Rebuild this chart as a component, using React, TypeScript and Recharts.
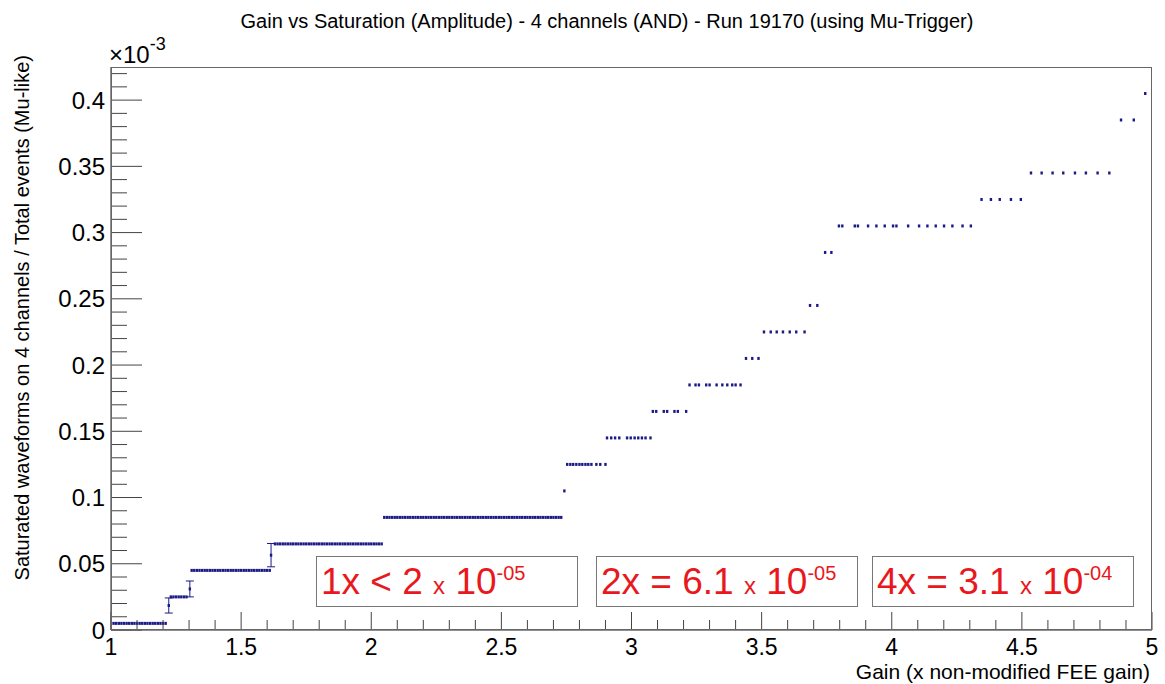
import React from 'react';
import { ScatterChart, Scatter, XAxis, YAxis, ErrorBar } from 'recharts';

// saturated fraction (in units of 10^-3) for each plateau, and the gain points sitting on it
const plateauRatio = [
  0.005, 0.025, 0.045, 0.065, 0.085, 0.105, 0.125, 0.145, 0.165, 0.185,
  0.205, 0.225, 0.245, 0.285, 0.305, 0.325, 0.345, 0.385, 0.405,
];
const plateauGains = [
  [1.0, 1.01, 1.02, 1.03, 1.04, 1.05, 1.06, 1.07, 1.08, 1.09, 1.1, 1.11, 1.12, 1.13, 1.14, 1.15, 1.16, 1.17, 1.18, 1.19, 1.2, 1.21],
  [1.23, 1.24, 1.25, 1.26, 1.27, 1.28, 1.29],
  [1.31, 1.32, 1.33, 1.34, 1.35, 1.36, 1.37, 1.38, 1.39, 1.4, 1.41, 1.42, 1.43, 1.44, 1.45, 1.46, 1.47, 1.48, 1.49, 1.5,
    1.51, 1.52, 1.53, 1.54, 1.55, 1.56, 1.57, 1.58, 1.59, 1.6, 1.61],
  [1.63, 1.64, 1.65, 1.66, 1.67, 1.68, 1.69, 1.7, 1.71, 1.72, 1.73, 1.74, 1.75, 1.76, 1.77, 1.78, 1.79, 1.8, 1.81, 1.82,
    1.83, 1.84, 1.85, 1.86, 1.87, 1.88, 1.89, 1.9, 1.91, 1.92, 1.93, 1.94, 1.95, 1.96, 1.97, 1.98, 1.99, 2.0, 2.01, 2.02,
    2.03, 2.04],
  [2.05, 2.06, 2.07, 2.08, 2.09, 2.1, 2.11, 2.12, 2.13, 2.14, 2.15, 2.16, 2.17, 2.18, 2.19, 2.2, 2.21, 2.22, 2.23, 2.24,
    2.25, 2.26, 2.27, 2.28, 2.29, 2.3, 2.31, 2.32, 2.33, 2.34, 2.35, 2.36, 2.37, 2.38, 2.39, 2.4, 2.41, 2.42, 2.43, 2.44,
    2.45, 2.46, 2.47, 2.48, 2.49, 2.5, 2.51, 2.52, 2.53, 2.54, 2.55, 2.56, 2.57, 2.58, 2.59, 2.6, 2.61, 2.62, 2.63, 2.64,
    2.65, 2.66, 2.67, 2.68, 2.69, 2.7, 2.71, 2.72, 2.73],
  [2.742],
  [2.753, 2.765, 2.776, 2.788, 2.8, 2.811, 2.823, 2.834, 2.846, 2.865, 2.88, 2.9],
  [2.906, 2.922, 2.937, 2.953, 2.983, 2.997, 3.012, 3.026, 3.04, 3.054, 3.073],
  [3.082, 3.095, 3.124, 3.137, 3.165, 3.178, 3.21],
  [3.223, 3.246, 3.259, 3.287, 3.3, 3.327, 3.349, 3.368, 3.387, 3.4, 3.419],
  [3.44, 3.464, 3.488],
  [3.509, 3.535, 3.558, 3.582, 3.608, 3.633, 3.665],
  [3.686, 3.714],
  [3.744, 3.768],
  [3.797, 3.81, 3.858, 3.87, 3.909, 3.941, 3.973, 4.005, 4.018, 4.063, 4.105, 4.137, 4.169, 4.201, 4.233, 4.272, 4.304],
  [4.345, 4.381, 4.415, 4.458, 4.496],
  [4.535, 4.576, 4.618, 4.659, 4.704, 4.746, 4.791, 4.836],
  [4.881, 4.93],
  [4.974],
];

// the few points between plateaus with a visible error bar
const stepGains = [1.222, 1.303, 1.615];
const stepRatio = [0.0185, 0.031, 0.0565];
const stepError = [0.0057, 0.006, 0.0088];

const xTicks = [
  1, 1.1, 1.2, 1.3, 1.4, 1.5, 1.6, 1.7, 1.8, 1.9, 2, 2.1, 2.2, 2.3, 2.4, 2.5, 2.6, 2.7, 2.8, 2.9, 3,
  3.1, 3.2, 3.3, 3.4, 3.5, 3.6, 3.7, 3.8, 3.9, 4, 4.1, 4.2, 4.3, 4.4, 4.5, 4.6, 4.7, 4.8, 4.9, 5,
];
const yTicks = [
  0, 0.01, 0.02, 0.03, 0.04, 0.05, 0.06, 0.07, 0.08, 0.09, 0.1, 0.11, 0.12, 0.13, 0.14, 0.15, 0.16, 0.17, 0.18,
  0.19, 0.2, 0.21, 0.22, 0.23, 0.24, 0.25, 0.26, 0.27, 0.28, 0.29, 0.3, 0.31, 0.32, 0.33, 0.34, 0.35, 0.36,
  0.37, 0.38, 0.39, 0.4, 0.41, 0.42,
];

const W = 1165;
const H = 684;
const LEFT = 111;
const TOP = 67;
const RIGHT = 13;
const BOTTOM = 54;
const PLOT_BOTTOM = H - BOTTOM;
const FONT = "'Liberation Sans', Arial, Helvetica, sans-serif";
const NAVY = '#1a1a86';
const RED = '#e8181c';

const plateauPoints = plateauGains.flatMap((gains, i) =>
  gains.map((g) => ({ gain: g, ratio: plateauRatio[i] }))
);
const stepPoints = stepGains.map((g, i) => ({ gain: g, ratio: stepRatio[i], err: stepError[i] }));

const isMultiple = (v: number, k: number) => Math.abs(v * k - Math.round(v * k)) < 1e-6;

// small ROOT-like square marker; a bit narrower than the spacing so dense runs keep a dotted look
const Marker = (props: any) => {
  const { cx, cy } = props;
  if (cx == null || cy == null) return null;
  return <rect x={cx - 1.2} y={cy - 1.5} width={2.4} height={3} fill={NAVY} />;
};

const XTick = (props: any) => {
  const { x, payload } = props;
  const v = payload.value;
  const major = isMultiple(v, 2);
  return (
    <g>
      <line x1={x} x2={x} y1={PLOT_BOTTOM} y2={PLOT_BOTTOM - (major ? 18 : 10)} stroke="#444" />
      {major && (
        <text x={x} y={655} textAnchor="middle" fontSize={23} fontFamily={FONT} fill="#000">
          {String(v)}
        </text>
      )}
    </g>
  );
};

const YTick = (props: any) => {
  const { y, payload } = props;
  const v = payload.value;
  const major = isMultiple(v, 20);
  return (
    <g>
      <line x1={LEFT} x2={LEFT + (major ? 31 : 16)} y1={y} y2={y} stroke="#444" />
      {major && (
        <text x={105} y={y} dy="0.36em" textAnchor="end" fontSize={24} fontFamily={FONT} fill="#000">
          {String(v)}
        </text>
      )}
    </g>
  );
};

const boxes = [
  { left: 316, lead: '1x < 2 ', exp: '-05' },
  { left: 596, lead: '2x = 6.1 ', exp: '-05' },
  { left: 872, lead: '4x = 3.1 ', exp: '-04' },
];

export default function App() {
  return (
    <div style={{ position: 'absolute', left: 0, top: 0, width: W, height: H, background: '#fff' }}>
      <ScatterChart width={W} height={H} margin={{ top: TOP, right: RIGHT, bottom: 0, left: 0 }}>
        <XAxis
          type="number"
          dataKey="gain"
          domain={[1, 5]}
          ticks={xTicks}
          interval={0}
          height={BOTTOM}
          tickLine={false}
          axisLine={{ stroke: '#222' }}
          tick={(p: any) => <XTick {...p} />}
          allowDataOverflow
        />
        <YAxis
          type="number"
          dataKey="ratio"
          domain={[0, 0.425]}
          ticks={yTicks}
          interval={0}
          width={LEFT}
          tickLine={false}
          axisLine={{ stroke: '#222' }}
          tick={(p: any) => <YTick {...p} />}
          allowDataOverflow
        />
        <Scatter data={plateauPoints} fill={NAVY} shape={Marker} isAnimationActive={false} />
        <Scatter data={stepPoints} fill={NAVY} shape={Marker} isAnimationActive={false}>
          <ErrorBar dataKey="err" direction="y" width={4} stroke={NAVY} strokeWidth={1} />
        </Scatter>
      </ScatterChart>

      {/* frame */}
      <div
        style={{
          position: 'absolute',
          left: LEFT,
          top: TOP,
          width: W - LEFT - RIGHT,
          height: PLOT_BOTTOM - TOP,
          border: '1px solid #666',
          boxSizing: 'border-box',
          pointerEvents: 'none',
        }}
      />

      <svg width={W} height={H} style={{ position: 'absolute', left: 0, top: 0, pointerEvents: 'none' }}>
        <text x={607} y={28} textAnchor="middle" fontSize={20} fontFamily={FONT} fill="#000">
          Gain vs Saturation (Amplitude) - 4 channels (AND) - Run 19170 (using Mu-Trigger)
        </text>
        <text x={109} y={63} fontSize={24} fontFamily={FONT} fill="#000">
          ×10<tspan dy={-13} fontSize={18}>-3</tspan>
        </text>
        <text x={1150} y={679} textAnchor="end" fontSize={21} fontFamily={FONT} fill="#000">
          Gain (x non-modified FEE gain)
        </text>
        <text
          x={0}
          y={0}
          transform="translate(29,55) rotate(-90)"
          textAnchor="end"
          fontSize={20}
          fontFamily={FONT}
          fill="#000"
        >
          Saturated waveforms on 4 channels / Total events (Mu-like)
        </text>
      </svg>

      {boxes.map((b) => (
        <div
          key={b.left}
          style={{
            position: 'absolute',
            left: b.left,
            top: 556,
            width: 262,
            height: 51,
            border: '1px solid #777',
            boxSizing: 'border-box',
            background: '#fff',
            color: RED,
            fontFamily: FONT,
            whiteSpace: 'nowrap',
            paddingLeft: 4,
            lineHeight: '50px',
          }}
        >
          <span style={{ fontSize: 37 }}>{b.lead}</span>
          <span style={{ fontSize: 24 }}>x</span>
          <span style={{ fontSize: 37 }}> 10</span>
          <span style={{ fontSize: 20, position: 'relative', top: -14 }}>{b.exp}</span>
        </div>
      ))}
    </div>
  );
}
